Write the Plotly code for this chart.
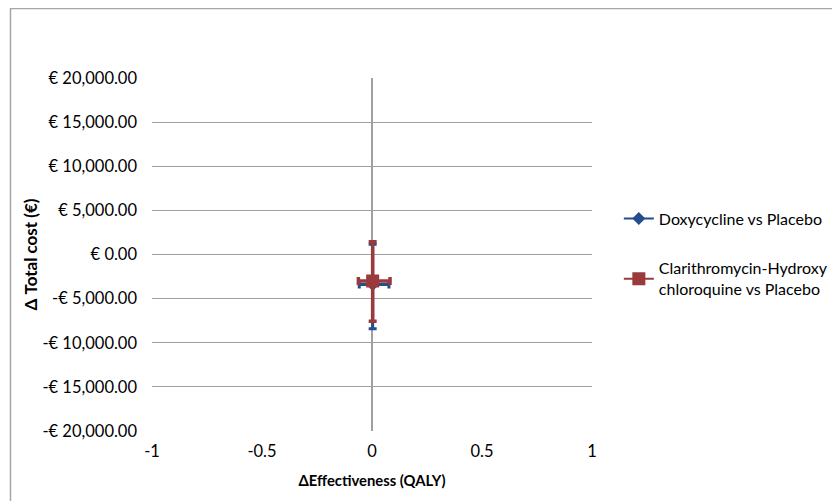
import plotly.graph_objects as go

# Data
series_names = ["Doxycycline vs Placebo", "Clarithromycin-Hydroxy<br>chloroquine vs Placebo"]
qaly_mean = [0.003, 0.003]
qaly_low = [-0.058, -0.062]
qaly_high = [0.077, 0.082]
cost_mean = [-3400, -3000]
cost_low = [-8420, -7560]
cost_high = [1170, 1440]

y_tickvals = [20000, 15000, 10000, 5000, 0, -5000, -10000, -15000, -20000]
y_ticktext = ["€ 20,000.00", "€ 15,000.00", "€ 10,000.00", "€ 5,000.00", "€ 0.00",
              "-€ 5,000.00", "-€ 10,000.00", "-€ 15,000.00", "-€ 20,000.00"]
x_tickvals = [-1, -0.5, 0, 0.5, 1]
x_ticktext = ["-1", "-0.5", "0", "0.5", "1"]

colors = ["#234D8C", "#9B3A3A"]
symbols = ["diamond", "square"]
msizes = [10, 13]
thick = [3, 3.5]

fig = go.Figure()
for i in range(2):
    fig.add_trace(go.Scatter(
        x=[qaly_mean[i]], y=[cost_mean[i]],
        mode="lines+markers",
        name=series_names[i],
        legendgroup=f"g{i}",
        line=dict(color=colors[i], width=2),
        marker=dict(symbol=symbols[i], size=msizes[i], color=colors[i]),
        error_x=dict(type="data", symmetric=False,
                     array=[qaly_high[i] - qaly_mean[i]],
                     arrayminus=[qaly_mean[i] - qaly_low[i]],
                     color=colors[i], thickness=thick[i], width=4),
        error_y=dict(type="data", symmetric=False,
                     array=[cost_high[i] - cost_mean[i]],
                     arrayminus=[cost_mean[i] - cost_low[i]],
                     color=colors[i], thickness=thick[i], width=4),
    ))

font_family = "Lato, Carlito, Calibri, sans-serif"
fig.update_layout(
    width=840, height=501,
    margin=dict(l=144, r=256, t=70, b=78),
    paper_bgcolor="white", plot_bgcolor="white",
    font=dict(family=font_family, size=16.5, color="#000000"),
    showlegend=True,
    legend=dict(x=1.061, y=0.65, xanchor="left", yanchor="top",
                font=dict(size=16, family=font_family),
                tracegroupgap=26, itemwidth=30, bgcolor="rgba(0,0,0,0)"),
    xaxis=dict(range=[-1, 1], tickvals=x_tickvals, ticktext=x_ticktext,
               showgrid=False, zeroline=True, zerolinecolor="#A0A0A0", zerolinewidth=1.5,
               showline=False, ticks="", ticklabelstandoff=8,
               title=dict(text="<b>ΔEffectiveness (QALY)</b>", standoff=16,
                          font=dict(size=14.8, family=font_family))),
    yaxis=dict(range=[-20000, 20000], tickvals=y_tickvals, ticktext=y_ticktext,
               showgrid=True, gridcolor="#A0A0A0", gridwidth=1,
               zeroline=False, showline=False, ticks="", ticklabelstandoff=14,
               title=dict(text="<b>Δ Total cost (€)</b>", standoff=0,
                          font=dict(size=17, family=font_family))),
    shapes=[dict(type="rect", xref="paper", yref="paper",
                 x0=-0.3216, x1=2, y0=-1, y1=1.1966,
                 line=dict(color="#A6A6A6", width=1.5), fillcolor="rgba(0,0,0,0)",
                 layer="below")],
)

fig.write_html("out.html", config={"displayModeBar": False})
